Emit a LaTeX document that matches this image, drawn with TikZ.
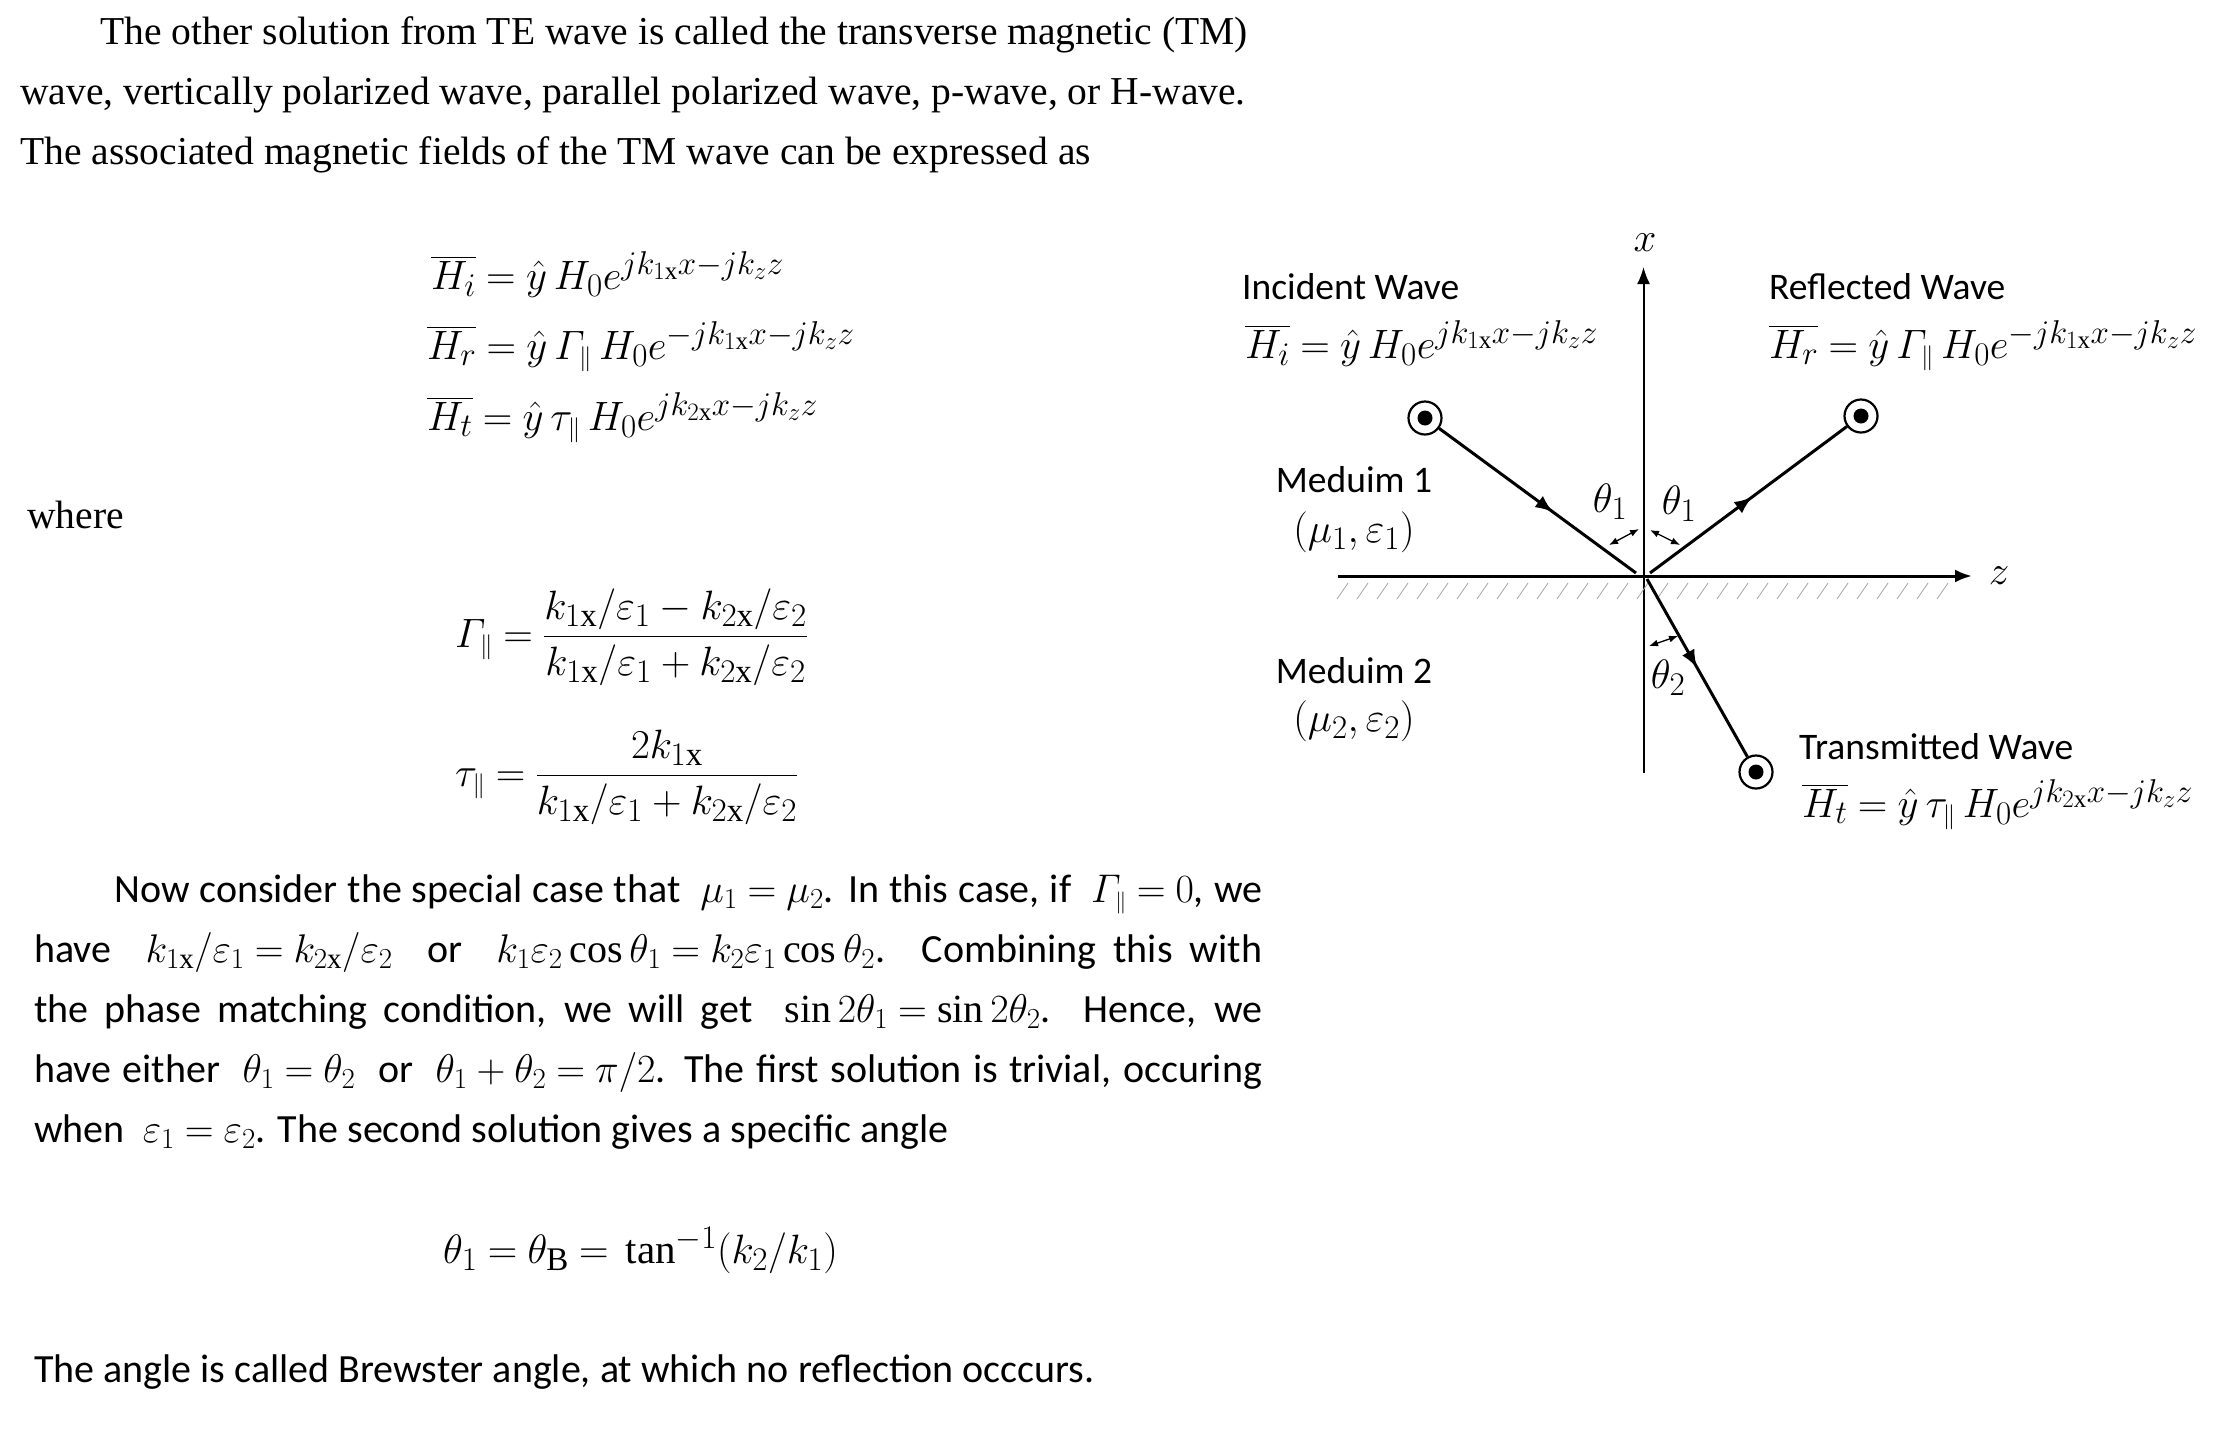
\documentclass[tikz,border=0pt]{standalone}
\usepackage{fix-cm}
\usepackage{amsmath}
\usepackage{fontspec}
\setmainfont{Liberation Serif}
\newfontfamily\bodyfont{Carlito}
\usetikzlibrary{arrows.meta, decorations.markings}
\DeclareMathSizes{41}{41}{33}{25}
\DeclareMathSizes{40}{40}{29}{22}
\thickmuskip=4.5mu
\medmuskip=4mu

\newcommand{\Hfield}[2]{\overline{H_{#1}}=\hat{y}\,#2H_0}
\newcommand{\kx}[1]{k_{#1\mathrm{x}}}
\newcommand{\pargamma}{\mathnormal{\Gamma}_{\scriptscriptstyle\parallel}}
\newcommand{\partau}{\tau_{\scriptscriptstyle\parallel}}

\begin{document}
\begin{tikzpicture}[x=1pt,y=-1pt]

\tikzset{sertext/.style = {anchor=base west,inner sep=0pt,font=\fontsize{39.55}{46}\selectfont}}
\tikzset{caltext/.style = {anchor=base west,inner sep=0pt,font=\bodyfont\fontsize{40}{46}\selectfont}}
\tikzset{mathtext/.style = {anchor=base west,inner sep=0pt,font=\fontsize{41}{50}\selectfont}}
\tikzset{labeltext/.style = {anchor=base west,inner sep=0pt,font=\bodyfont\fontsize{37.5}{44}\selectfont}}
\tikzset{fieldmark/.style = {shape=circle,draw,line width=2.2pt,minimum size=33pt,inner sep=0pt,
  path picture={\fill (path picture bounding box.center) circle (7.5);}}}
\tikzset{axis/.style = {-{Latex[length=17pt,width=13pt]}}}
\tikzset{ray/.style = {line width=3pt,decoration={markings,mark=at position #1 with {\arrow{Latex[length=18pt,width=14pt]}}},postaction={decorate}}}
\tikzset{anglemark/.style = {{Latex[length=9pt,width=7pt]}-{Latex[length=9pt,width=7pt]},line width=1.3pt}}

\useasboundingbox (0,0) rectangle (2230,1428);
\fill[white] (0,0) rectangle (2230,1428);

%text above
\node[sertext] (top1) at (100,44) {The other solution from TE wave is called the transverse magnetic (TM)};
\node[sertext] (top2) at (20,104) {wave, vertically polarized wave, parallel polarized wave, p-wave, or H-wave.};
\node[sertext] (top3) at (20,164) {The associated magnetic fields of the TM wave can be expressed as};
\node[sertext] (where) at (27,528) {where};

%equations
\node[mathtext] (eqi) at (431,289) {$\Hfield{i}{}e^{jk_{1\mathrm{x}}x-jk_zz}$};
\node[mathtext] (eqr) at (427,359) {$\Hfield{r}{\pargamma\,}e^{-jk_{1\mathrm{x}}x-jk_zz}$};
\node[mathtext] (eqt) at (427,430) {$\Hfield{t}{\partau\,}e^{jk_{2\mathrm{x}}x-jk_zz}$};
\node[mathtext] (gam) at (455,647) {$\pargamma=\dfrac{\kx{1}/\varepsilon_1-\kx{2}/\varepsilon_2}{\kx{1}/\varepsilon_1+\kx{2}/\varepsilon_2}$};
\node[mathtext] (tau) at (455,786) {$\partau=\dfrac{2\kx{1}}{\kx{1}/\varepsilon_1+\kx{2}/\varepsilon_2}$};

%text below
\node[caltext] (low1) at (114,902) {\makebox[1148pt][s]{Now consider the special case that \ $\mu_1=\mu_2$. In this case, if \ $\pargamma=0$, we}};
\node[caltext] (low2) at (34,962) {\makebox[1228pt][s]{have \ $\kx{1}/\varepsilon_1=\kx{2}/\varepsilon_2$ \ or \ $k_1\varepsilon_2\cos\theta_1=k_2\varepsilon_1\cos\theta_2$. Combining this with}};
\node[caltext] (low3) at (34,1022) {\makebox[1228pt][s]{the phase matching condition, we will get \ $\sin2\theta_1=\sin2\theta_2$. Hence, we}};
\node[caltext] (low4) at (34,1082) {\makebox[1228pt][s]{have either \ $\theta_1=\theta_2$ \ or \ $\theta_1+\theta_2=\pi/2$. The first solution is trivial, occuring}};
\node[caltext] (low5) at (34,1142) {when \ $\varepsilon_1=\varepsilon_2$. The second solution gives a specific angle};
\node[mathtext] (eqb) at (443,1263) {$\theta_1=\theta_{\mathrm{B}}=\,\tan^{-1}\!\,(k_2/k_1)$\,};
\node[caltext] (low6) at (34,1382) {The angle is called Brewster angle, at which no reflection occcurs.};

%diagram
\coordinate (xtop) at (1643.5,267);
\coordinate (xbot) at (1643.5,773);
\coordinate (zleft) at (1338,576);
\coordinate (zright) at (1972,576);
\node[fieldmark] (inc) at (1425,418) {};
\node[fieldmark] (ref) at (1861,416) {};
\node[fieldmark] (tra) at (1756,772) {};

%axes and hatching
\draw[axis,line width=2pt] (xbot) -- (xtop);
\draw[axis,line width=3pt] (zleft) -- (zright);
\foreach \hx in {0,...,30}
  \draw[gray!70,line width=0.8pt] (1337+\hx*20,599) -- ++(11,-16);

%rays
\coordinate (orgi) at (1636,573);
\coordinate (orgr) at (1650,573);
\coordinate (orgt) at (1647,579);
\draw[ray=0.58] (inc) -- (orgi);
\draw[ray=0.52] (orgr) -- (ref);
\draw[ray=0.5] (orgt) -- (tra);

%angle marks
\coordinate (ali) at (1609,545);
\coordinate (ali2) at (1639,529);
\coordinate (alr) at (1650,530);
\coordinate (alr2) at (1680,545);
\coordinate (alt) at (1649,646);
\coordinate (alt2) at (1678,636);
\draw[anglemark] (ali) -- (ali2);
\draw[anglemark] (alr) -- (alr2);
\draw[anglemark] (alt) -- (alt2);

%labels
\node[mathtext,anchor=center] (xlab) at (1645,243) {$x$};
\node[mathtext,anchor=center] (zlab) at (1999,576) {$z$};
\node[mathtext,anchor=center] (th1l) at (1610,502) {$\theta_1$};
\node[mathtext,anchor=center] (th1r) at (1679,504) {$\theta_1$};
\node[mathtext,anchor=center] (th2) at (1668,678) {$\theta_2$};
\node[labeltext] (lbi) at (1242,299) {Incident Wave};
\node[mathtext] (lbeqi) at (1245,358) {$\Hfield{i}{}e^{jk_{1\mathrm{x}}x-jk_zz}$};
\node[labeltext] (lbr) at (1769,299) {Reflected Wave};
\node[mathtext] (lbeqr) at (1769,358) {$\Hfield{r}{\pargamma\,}e^{-jk_{1\mathrm{x}}x-jk_zz}$};
\node[labeltext] (lbt) at (1799,759) {Transmitted Wave};
\node[mathtext] (lbeqt) at (1802,817) {$\Hfield{t}{\partau\,}e^{jk_{2\mathrm{x}}x-jk_zz}$};
\node[labeltext,anchor=base] (med1) at (1354,492) {Meduim 1};
\node[mathtext,anchor=base] (par1) at (1354,542) {$(\mu_1,\varepsilon_1)$};
\node[labeltext,anchor=base] (med2) at (1354,683) {Meduim 2};
\node[mathtext,anchor=base] (par2) at (1354,731) {$(\mu_2,\varepsilon_2)$};

\end{tikzpicture}
\end{document}
